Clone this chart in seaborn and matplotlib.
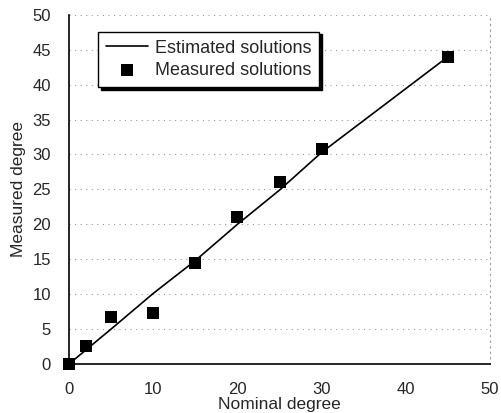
import numpy as np
import pandas as pd
import seaborn as sns
import matplotlib.pyplot as plt

# data
nominal = [0, 2, 5, 10, 15, 20, 25, 30, 45]
measured = [0, 2.6, 6.7, 7.3, 14.4, 21.0, 26.0, 30.8, 43.9]
estimated = [0, 2.0, 5.0, 10.1, 14.8, 20.0, 24.9, 30.3, 44.0]

sns.set_style('white')
plt.rcParams['font.family'] = ['Liberation Sans', 'DejaVu Sans']

fig, ax = plt.subplots(figsize=(5.01, 4.13), dpi=100)
fig.subplots_adjust(left=0.138, right=0.978, top=0.964, bottom=0.119)

df = pd.DataFrame({'Nominal': nominal, 'Measured': measured, 'Estimated': estimated})

sns.lineplot(data=df, x='Nominal', y='Estimated', color='black', lw=1.2,
             ax=ax, label='Estimated solutions')
sns.scatterplot(data=df, x='Nominal', y='Measured', color='black', marker='s',
                s=75, edgecolor='black', linewidth=0, ax=ax, label='Measured solutions',
                zorder=5, clip_on=False)

ax.set_xlim(0, 50)
ax.set_ylim(0, 50)
ax.set_xticks(range(0, 51, 10))
ax.set_yticks(range(0, 51, 5))
ax.tick_params(axis='both', labelsize=12, length=0)
ax.tick_params(axis='x', pad=13)
ax.tick_params(axis='y', pad=13)
ax.set_xlabel('Nominal degree', fontsize=12.5, labelpad=0)
ax.set_ylabel('Measured degree', fontsize=12.5, labelpad=5)

# dotted horizontal grid
ax.yaxis.grid(True, color='#999999', linestyle=(0, (1, 4)), lw=0.8)
ax.xaxis.grid(False)
ax.set_axisbelow(True)
for side in ['left', 'bottom']:
    ax.spines[side].set_color('black')
    ax.spines[side].set_linewidth(1.2)
ax.spines['top'].set_visible(False)
ax.spines['right'].set_color('#999999')
ax.spines['right'].set_linestyle((0, (1, 4)))
ax.spines['right'].set_linewidth(0.8)

leg = ax.legend(loc='upper left', bbox_to_anchor=(0.047, 0.978), fontsize=13,
                frameon=True, fancybox=False, shadow={'color': 'black', 'alpha': 1},
                edgecolor='black', borderpad=0.45, handlelength=2.3,
                handletextpad=0.4, labelspacing=0.3)
leg.get_frame().set_linewidth(1.0)

fig.savefig('out.png', dpi=100)
